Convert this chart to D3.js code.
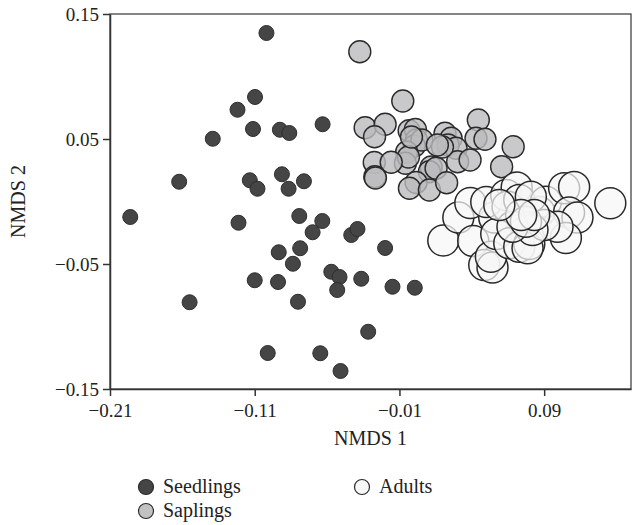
<!DOCTYPE html>
<html><head><meta charset="utf-8">
<script src="https://cdn.jsdelivr.net/npm/d3@7"></script>
<style>body{margin:0;background:#fff}svg{display:block}text{font-family:"Liberation Serif","DejaVu Serif",serif;fill:#222}</style>
</head><body><svg id="c" width="634" height="525"></svg>
<script>
const xTicks=[-0.21,-0.11,-0.01,0.09];
const yTicks=[-0.15,-0.05,0.05,0.15];
const seedlings=[[-0.1019,0.1348],[-0.1098,0.0836],[-0.1219,0.0734],[-0.1112,0.058],[-0.0926,0.0574],[-0.0861,0.0548],[-0.139,0.0502],[-0.0631,0.0618],[-0.1622,0.0158],[-0.1134,0.017],[-0.1081,0.0102],[-0.0912,0.0218],[-0.0866,0.0102],[-0.076,0.0162],[-0.196,-0.0124],[-0.1212,-0.017],[-0.0792,-0.0116],[-0.07,-0.0246],[-0.0633,-0.0156],[-0.0433,-0.0268],[-0.039,-0.022],[-0.0786,-0.0374],[-0.0199,-0.0372],[-0.0934,-0.0406],[-0.0836,-0.0498],[-0.11,-0.063],[-0.0939,-0.0644],[-0.0801,-0.0802],[-0.155,-0.0806],[-0.101,-0.1212],[-0.0571,-0.0562],[-0.0514,-0.0604],[-0.053,-0.0708],[-0.0364,-0.0618],[-0.0148,-0.0682],[0.0006,-0.069],[-0.0316,-0.1042],[-0.0647,-0.1214],[-0.0507,-0.1356]];
const saplings=[[-0.0374,0.1198],[-0.0077,0.0804],[-0.0337,0.059],[-0.0199,0.0618],[-0.0272,0.0518],[-0.0033,0.0566],[0.001,0.0576],[0.0017,0.0492],[0.0003,0.0444],[0.0055,0.0492],[-0.005,0.0396],[-0.0059,0.0306],[-0.0038,0.0356],[0.0215,0.0546],[0.0257,0.0506],[0.0236,0.0452],[0.0291,0.0426],[0.0445,0.0652],[0.0429,0.0506],[0.0491,0.0498],[0.0686,0.0438],[-0.0274,0.0312],[-0.0157,0.0314],[-0.027,0.0198],[-0.0266,0.0188],[0.0119,0.0276],[0.0107,0.0238],[0.0153,0.0266],[0.0302,0.0318],[0.0388,0.0332],[0.0606,0.0278],[0.0015,0.0152],[-0.0031,0.0106],[0.0107,0.0092],[0.0226,0.015],[0.0197,0.0436],[0.0162,0.0452],[-0.0017,0.0516]];
const adults=[[0.0203,-0.0312],[0.0307,-0.0128],[0.039,-0.0012],[0.041,-0.0316],[0.0486,-0.0508],[0.0543,-0.0528],[0.0532,-0.0442],[0.0555,-0.0128],[0.05,-0.0004],[0.0638,0.0052],[0.071,0.0112],[0.0647,-0.0042],[0.0728,0.0012],[0.0569,-0.026],[0.0659,-0.0334],[0.0728,-0.0362],[0.0797,-0.034],[0.0785,-0.0374],[0.0866,-0.0084],[0.0912,-0.0002],[0.0808,0.0038],[0.1038,0.0106],[0.1107,0.0116],[0.1072,-0.0088],[0.113,-0.0128],[0.105,-0.0292],[0.0992,-0.0202],[0.09,-0.0188],[0.0819,-0.0228],[0.0681,-0.0202],[0.0774,-0.0162],[0.1357,-0.0014],[0.0831,-0.0108],[0.0741,-0.0108],[0.059,-0.0028]];
const groups=["Seedlings","Saplings","Adults"];

const svg=d3.select("#c");
const L=110,R=631,T=14,B=389;
const x=d3.scaleLinear().domain([-0.21,0.15]).range([L,R]);
const y=d3.scaleLinear().domain([-0.15,0.15]).range([B,T]);
const fmt=d=>d3.format(".2f")(d).replace("-","\u2212");

svg.append("rect").attr("x",L).attr("y",T).attr("width",R-L).attr("height",B-T).attr("fill","none").attr("stroke","#444").attr("stroke-width",1.3);

const styles={
 Seedlings:{r:7.5,fill:"#454545",fo:1,stroke:"#2e2e2e",sw:1},
 Saplings:{r:11,fill:"#bbbbbe",fo:0.8,stroke:"#2a2a2a",sw:1.4},
 Adults:{r:15.5,fill:"#f6f6f6",fo:0.72,stroke:"#2a2a2a",sw:1.5}
};
const sets={Seedlings:seedlings,Saplings:saplings,Adults:adults};
groups.forEach(g=>{
 const s=styles[g];
 svg.append("g").selectAll("circle").data(sets[g]).join("circle")
  .attr("cx",d=>x(d[0])).attr("cy",d=>y(d[1])).attr("r",s.r)
  .attr("fill",s.fill).attr("fill-opacity",s.fo).attr("stroke",s.stroke).attr("stroke-width",s.sw);
});

const xa=svg.append("g").attr("transform",`translate(0,${B})`).call(d3.axisBottom(x).tickValues(xTicks).tickFormat(fmt).tickSize(7).tickSizeOuter(0));
const ya=svg.append("g").attr("transform",`translate(${L},0)`).call(d3.axisLeft(y).tickValues(yTicks).tickFormat(fmt).tickSize(7).tickSizeOuter(0));
[xa,ya].forEach(a=>{a.select(".domain").attr("stroke","#333").attr("stroke-width",1.5);a.selectAll(".tick line").attr("stroke","#333").attr("stroke-width",1.5);a.selectAll("text").attr("font-family","Liberation Serif").attr("font-size",19).attr("fill","#222");});
xa.selectAll("text").attr("dy","0.95em");
ya.selectAll("text").attr("dx","-0.05em");

svg.append("text").attr("x",(L+R)/2).attr("y",445).attr("text-anchor","middle").attr("font-size",20).text("NMDS 1");
svg.append("text").attr("transform",`translate(25,${(T+B)/2}) rotate(-90)`).attr("text-anchor","middle").attr("font-size",20).text("NMDS 2");

const leg=[{g:"Seedlings",x:146,y:487},{g:"Saplings",x:146,y:511},{g:"Adults",x:362,y:487}];
leg.forEach(l=>{
 const s=styles[l.g];
 svg.append("circle").attr("cx",l.x).attr("cy",l.y).attr("r",7.5).attr("fill",s.fill).attr("fill-opacity",l.g==="Seedlings"?1:0.9).attr("stroke","#2a2a2a").attr("stroke-width",1.2);
 svg.append("text").attr("x",l.x+17).attr("y",l.y+6).attr("font-size",20).text(l.g);
});
</script></body></html>
